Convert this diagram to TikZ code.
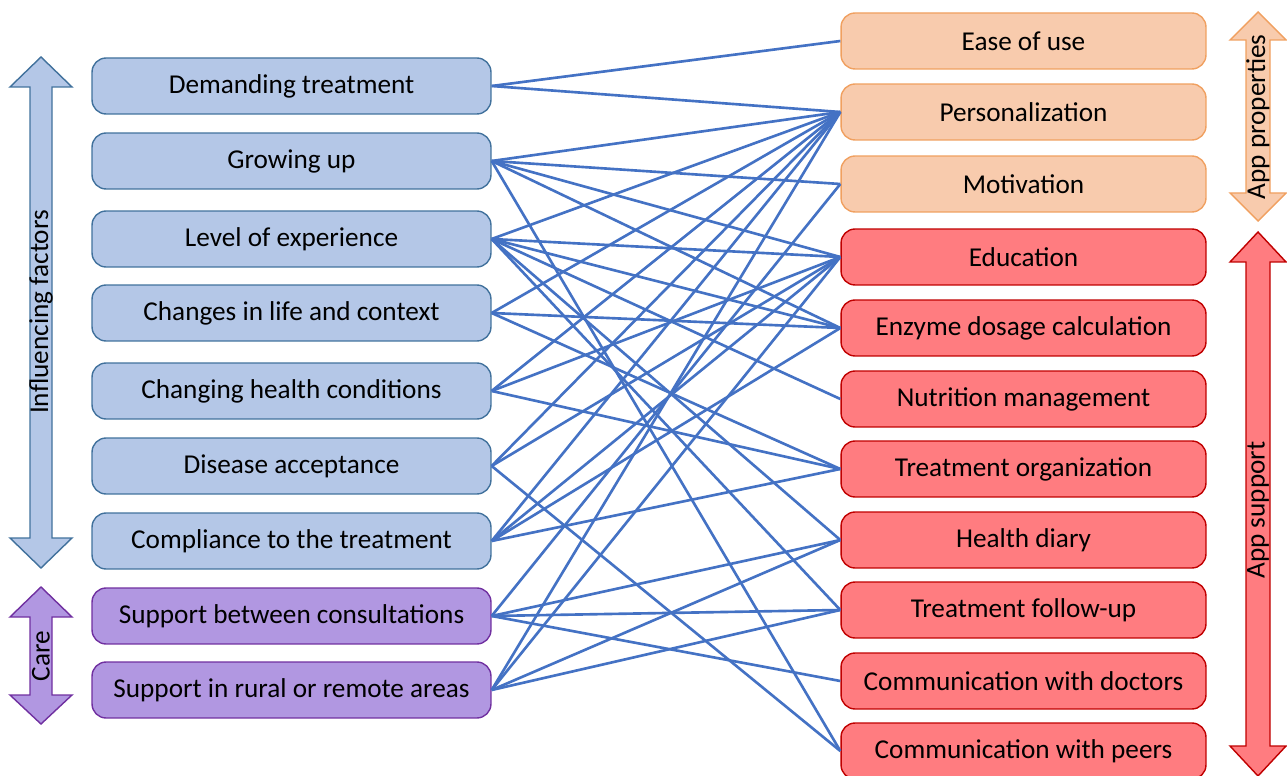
\documentclass[tikz,border=0pt]{standalone}
\usepackage{fontspec}
\setmainfont{Carlito}
\usetikzlibrary{positioning}

\definecolor{factfill}{HTML}{B4C7E7}
\definecolor{factline}{HTML}{41719C}
\definecolor{carefill}{HTML}{B197E1}
\definecolor{careline}{HTML}{7030A0}
\definecolor{propfill}{HTML}{F8CBAD}
\definecolor{propline}{HTML}{F0A060}
\definecolor{suppfill}{HTML}{FF7C80}
\definecolor{suppline}{HTML}{C00000}
\definecolor{linkblue}{HTML}{4472C4}

\tikzset{
  box/.style={rounded corners=8pt, minimum height=1.12cm, line width=0.8pt,
    font=\fontsize{15.5}{18}\selectfont},
  factor/.style={box, fill=factfill, draw=factline, minimum width=7.98cm},
  care/.style={box, fill=carefill, draw=careline, minimum width=7.98cm},
  prop/.style={box, fill=propfill, draw=propline, minimum width=7.3cm},
  supp/.style={box, fill=suppfill, draw=suppline, minimum width=7.3cm},
  link/.style={draw=linkblue, line width=1.5pt},
  bandtext/.style={rotate=90, font=\fontsize{15.5}{18}\selectfont}
}

\begin{document}
\begin{tikzpicture}[x=0.02cm, y=-0.02cm]
\useasboundingbox (0,0) rectangle (1287,776);

% Left side: influencing factors and care
\node[factor] (l1) at (291.5, 86) {Demanding treatment};
\node[factor] (l2) at (291.5,161) {Growing up};
\node[factor] (l3) at (291.5,239) {Level of experience};
\node[factor] (l4) at (291.5,313) {Changes in life and context};
\node[factor] (l5) at (291.5,391) {Changing health conditions};
\node[factor] (l6) at (291.5,466) {Disease acceptance};
\node[factor] (l7) at (291.5,541) {Compliance to the treatment};
\node[care]   (l8) at (291.5,616) {Support between consultations};
\node[care]   (l9) at (291.5,690) {Support in rural or remote areas};

% Right side: app properties and app support
\node[prop] (r1)  at (1023.5, 41) {Ease of use};
\node[prop] (r2)  at (1023.5,112) {Personalization};
\node[prop] (r3)  at (1023.5,184) {Motivation};
\node[supp] (r4)  at (1023.5,257) {Education};
\node[supp] (r5)  at (1023.5,328) {Enzyme dosage calculation};
\node[supp] (r6)  at (1023.5,399) {Nutrition management};
\node[supp] (r7)  at (1023.5,469) {Treatment organization};
\node[supp] (r8)  at (1023.5,540) {Health diary};
\node[supp] (r9)  at (1023.5,610) {Treatment follow-up};
\node[supp] (r10) at (1023.5,681) {Communication with doctors};
\node[supp] (r11) at (1023.5,751) {Communication with peers};

% Links
\foreach \a/\b in {1/1,1/2, 2/2,2/3,2/4,2/5,2/11, 3/2,3/4,3/5,3/6,3/8,3/9,
  4/2,4/5,4/7, 5/2,5/4,5/7, 6/2,6/4,6/11, 7/2,7/4,7/5,7/7,
  8/3,8/8,8/9,8/10, 9/2,9/4,9/8,9/9}
  \draw[link] (l\a.east) -- (r\b.west);

% Side arrows
\filldraw[fill=factfill, draw=factline, line width=0.8pt]
  (41,57) -- (72,87) -- (52,87) -- (52,538) -- (72,538) -- (41,568)
  -- (10,538) -- (30,538) -- (30,87) -- (10,87) -- cycle;
\node[bandtext] (factors) at (41,312) {Influencing factors};

\filldraw[fill=carefill, draw=careline, line width=0.8pt]
  (41,587) -- (72,617) -- (52,617) -- (52,695) -- (72,695) -- (41,724)
  -- (10,695) -- (30,695) -- (30,617) -- (10,617) -- cycle;
\node[bandtext] (caretext) at (41,656) {Care};

\filldraw[fill=propfill, draw=propline, line width=0.8pt]
  (1258,12) -- (1286,40) -- (1270,40) -- (1270,193) -- (1286,193) -- (1258,221)
  -- (1230,193) -- (1246,193) -- (1246,40) -- (1230,40) -- cycle;
\node[bandtext] (props) at (1258,117) {App properties};

\filldraw[fill=suppfill, draw=suppline, line width=0.8pt]
  (1258,232) -- (1286,262) -- (1270,262) -- (1270,746) -- (1286,746) -- (1258,776)
  -- (1230,746) -- (1246,746) -- (1246,262) -- (1230,262) -- cycle;
\node[bandtext] (support) at (1258,510) {App support};

\end{tikzpicture}
\end{document}
